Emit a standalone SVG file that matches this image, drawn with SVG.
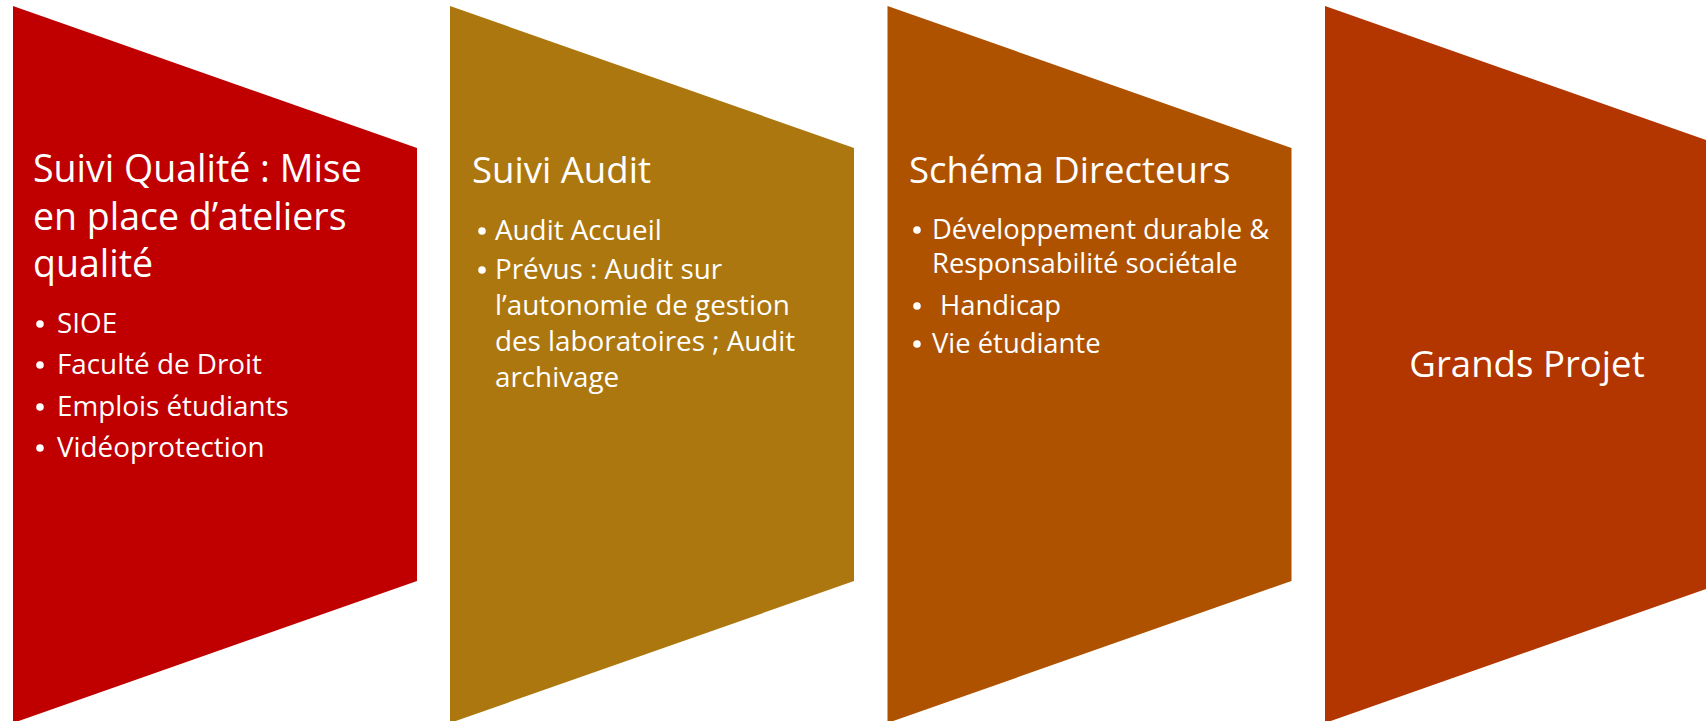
<svg xmlns="http://www.w3.org/2000/svg" width="1706" height="721" viewBox="0 0 1706 721">
<style>
text{font-family:"Open Sans","Noto Sans","Liberation Sans",sans-serif;fill:#ffffff}
.t{font-size:36.6px}
.t1{font-size:37.5px}
.b{font-size:27.8px}
.b3{font-size:27.4px}
.dot{fill:#ffffff}
</style>
<rect width="1706" height="721" fill="#ffffff"/>
<g id="node1">
<polygon points="13,6 417,148 417,581 13,723" fill="#C00000"/>
<text class="t1" x="33" y="182">Suivi Qualité : Mise</text>
<text class="t1" x="33" y="230">en place d’ateliers</text>
<text class="t1" x="33" y="277">qualité</text>
<circle class="dot" cx="40" cy="324" r="3.8"/>
<text class="b" x="57" y="333">SIOE</text>
<circle class="dot" cx="40" cy="365" r="3.8"/>
<text class="b" x="57" y="374">Faculté de Droit</text>
<circle class="dot" cx="40" cy="407" r="3.8"/>
<text class="b" x="57" y="416">Emplois étudiants</text>
<circle class="dot" cx="40" cy="448" r="3.8"/>
<text class="b" x="57" y="457">Vidéoprotection</text>
</g>
<g id="node2">
<polygon points="450,6 854,148 854,581 450,723" fill="#AC770F"/>
<text class="t" x="472" y="183">Suivi Audit</text>
<circle class="dot" cx="482" cy="231" r="3.8"/>
<text class="b" x="495" y="240">Audit Accueil</text>
<circle class="dot" cx="482" cy="270" r="3.8"/>
<text class="b" x="495" y="279">Prévus : Audit sur</text>
<text class="b" x="495" y="315">l’autonomie de gestion</text>
<text class="b" x="495" y="351">des laboratoires ; Audit</text>
<text class="b" x="495" y="387">archivage</text>
</g>
<g id="node3">
<polygon points="887.5,6 1291.5,148 1291.5,581 887.5,723" fill="#AE5200"/>
<text class="t" x="909" y="183">Schéma Directeurs</text>
<circle class="dot" cx="917" cy="230" r="3.8"/>
<text class="b3" x="932" y="239">Développement durable &amp;</text>
<text class="b3" x="932" y="273">Responsabilité sociétale</text>
<circle class="dot" cx="917" cy="306" r="3.8"/>
<text class="b3" x="940" y="315">Handicap</text>
<circle class="dot" cx="917" cy="344" r="3.8"/>
<text class="b3" x="932" y="353">Vie étudiante</text>
</g>
<g id="node4">
<polygon points="1325,6 1729,148 1729,581 1325,723" fill="#B33500"/>
<text class="t" x="1527" y="377" text-anchor="middle">Grands Projet</text>
</g>
<g id="connectors"></g>
</svg>
